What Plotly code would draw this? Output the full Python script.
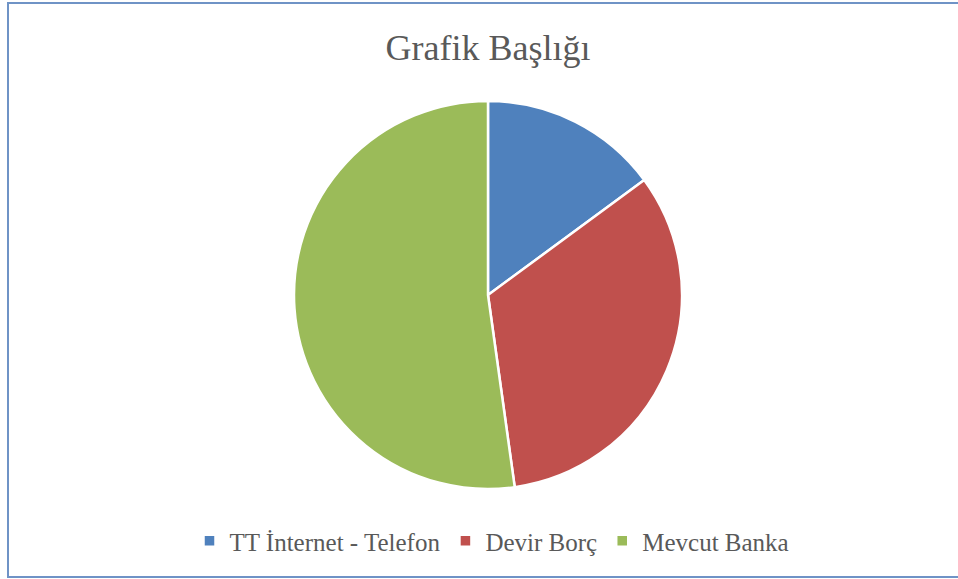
import plotly.graph_objects as go

labels = ["TT İnternet - Telefon", "Devir Borç", "Mevcut Banka"]
values = [14.9, 32.9, 52.2]
colors = ["#4F81BD", "#C0504D", "#9BBB59"]

W, H = 958, 579

fig = go.Figure(go.Pie(
    labels=labels,
    values=values,
    sort=False,
    direction="clockwise",
    rotation=0,
    textinfo="none",
    hoverinfo="label+value+percent",
    marker=dict(colors=colors, line=dict(color="white", width=2.5)),
    domain=dict(x=[(488 - 194) / W, (488 + 194) / W], y=[1 - 489 / H, 1 - 101 / H]),
))

fig.update_layout(
    width=W, height=H,
    margin=dict(l=0, r=0, t=0, b=0),
    paper_bgcolor="white",
    title=dict(text="Grafik Başlığı", x=488 / W, xanchor="center", y=1 - 47 / H, yanchor="middle",
               font=dict(family="Liberation Serif", size=36, color="#595959")),
    showlegend=True,
    legend=dict(orientation="h", x=492 / W, xanchor="center", y=1 - 541 / H, yanchor="middle",
                font=dict(family="Liberation Serif", size=25, color="#595959"),
                itemwidth=30, traceorder="normal"),
    shapes=[dict(type="rect", xref="paper", yref="paper",
                 x0=8 / W, x1=1.01, y0=1 - 577 / H, y1=1 - 3 / H,
                 line=dict(color="#6F93C6", width=2), fillcolor="rgba(0,0,0,0)", layer="below")],
)

fig.write_html("out.html", config={"displayModeBar": False},
               post_script="document.body.style.margin='0';document.body.style.overflow='hidden';")
